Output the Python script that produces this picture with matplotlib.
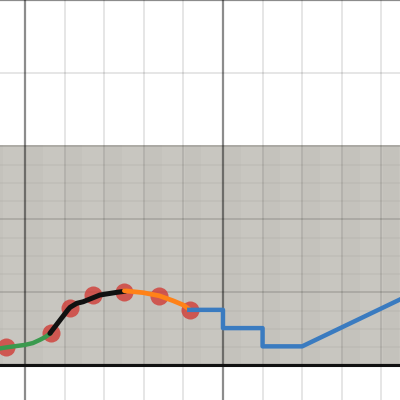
import numpy as np
import matplotlib
matplotlib.use("Agg")
import matplotlib.pyplot as plt

# values (data units)
green_x = [-0.65, -0.48, 0.0, 0.2, 0.38, 0.52, 0.65]
green_y = [0.23, 0.245, 0.28, 0.305, 0.35, 0.39, 0.44]

black_x = [0.63, 1.09, 1.14, 1.31, 1.47, 1.89, 2.32, 2.53]
black_y = [0.438, 0.764, 0.795, 0.85, 0.871, 0.963, 1.0, 1.015]

orange_x = [2.51, 2.99, 3.39, 3.74, 4.0, 4.15]
orange_y = [1.022, 0.995, 0.953, 0.885, 0.826, 0.767]

blue_x = [4.15, 5.0, 5.0, 6.0, 6.0, 7.0, 10.0]
blue_y = [0.76, 0.76, 0.51, 0.51, 0.26, 0.26, 1.04]

pts_x = [-0.48, 0.65, 1.14, 1.72, 2.51, 3.39, 4.18]
pts_y = [0.255, 0.44, 0.78, 0.965, 1.01, 0.95, 0.76]

band_top = 3.02

fig = plt.figure(figsize=(4, 4), dpi=100)
ax = fig.add_axes([0, 0, 1, 1])
ax.set_xlim(-0.63, 9.47)
ax.set_ylim(-0.475, 5.005)
for s in ax.spines.values():
    s.set_visible(False)
ax.set_xticks([])
ax.set_yticks([])

# grey paper-like band
ax.axhspan(0, band_top, color="#c8c6c0", zorder=0, lw=0)
for yy in np.arange(0.25, band_top, 0.25):
    ax.axhline(yy, color="#8a8880", alpha=0.12, lw=1.2, zorder=0.5)
for xx in np.arange(-1, 10):
    ax.fill_between([xx + 0.03, xx + 0.45], 0, band_top, color="#9a988f", alpha=0.07, lw=0, zorder=0.5)

# grid
for xx in range(-1, 10):
    major = xx % 5 == 0
    ax.axvline(xx, color="black", alpha=0.45 if major else 0.13, lw=1.6 if major else 1.1, zorder=1)
for yy in range(0, 6):
    major = yy % 5 == 0
    ax.axhline(yy, color="black", alpha=0.45 if major else 0.13, lw=1.6 if major else 1.1, zorder=1)

ax.axhline(0, color="#111111", lw=2.2, zorder=2)

ax.plot(pts_x, pts_y, "o", color="#d0443e", alpha=0.85, ms=13, mew=0, zorder=3)

ax.plot(green_x, green_y, color="#3a9a4e", lw=3.2, solid_capstyle="round", zorder=4)
ax.plot(black_x, black_y, color="#111111", lw=3.6, solid_capstyle="round", solid_joinstyle="round", zorder=4)
ax.plot(orange_x, orange_y, color="#ff8218", lw=3.4, solid_capstyle="round", zorder=4)
ax.plot(blue_x, blue_y, color="#3a7bc0", lw=3.2, zorder=4)

fig.savefig("out.png", dpi=100)
